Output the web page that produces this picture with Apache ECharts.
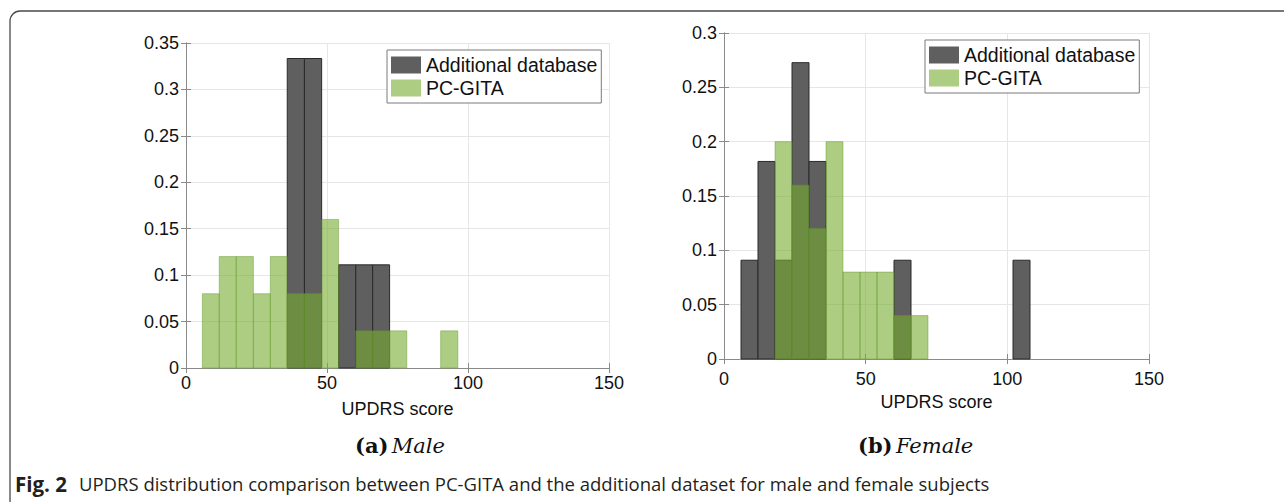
<!DOCTYPE html>
<html>
<head>
<meta charset="utf-8">
<script src="https://cdn.jsdelivr.net/npm/echarts@6/dist/echarts.min.js"></script>
<style>
  html, body { margin: 0; padding: 0; background: #fff; }
  #main { width: 1284px; height: 502px; }
</style>
</head>
<body>
<div id="main"></div>
<script>
// histogram bins (left/right edges)
var maleEdges = [5.8, 11.8, 17.8, 23.9, 29.9, 35.9, 42.0, 48.1, 54.1, 60.2, 66.2, 72.2, 78.3, 84.3, 90.3, 96.4];
var maleAdditional = [0, 0, 0, 0, 0, 0.3333, 0.3333, 0, 0.1111, 0.1111, 0.1111, 0, 0, 0, 0];
var malePcGita = [0.08, 0.12, 0.12, 0.08, 0.12, 0.08, 0.08, 0.16, 0, 0.04, 0.04, 0.04, 0, 0, 0.04];

var femaleEdges = [6, 12, 18, 24, 30, 36, 42, 48, 54, 60, 66, 72, 78, 84, 90, 96, 102, 108];
var femaleAdditional = [0.0909, 0.1818, 0.0909, 0.2727, 0.1818, 0, 0, 0, 0, 0.0909, 0, 0, 0, 0, 0, 0, 0.0909];
var femalePcGita = [0, 0, 0.2, 0.16, 0.12, 0.2, 0.08, 0.08, 0.08, 0.04, 0.04, 0, 0, 0, 0, 0, 0];

var xTicks = [0, 50, 100, 150];
var seriesNames = ['Additional database', 'PC-GITA'];

var FONT = '"Liberation Sans", Arial, Helvetica, sans-serif';
var SERIF = '"DejaVu Serif", "Liberation Serif", serif';
var grayFill = '#5f5f5f';
var greenFill = 'rgba(119,172,48,0.6)';

function bins(edges, vals) {
  var out = [];
  for (var i = 0; i < vals.length; i++) {
    out.push([edges[i], edges[i + 1], vals[i]]);
  }
  return out;
}

function makeRender(fill, stroke) {
  return function (params, api) {
    var v = api.value(2);
    if (!v) return null;
    var p0 = api.coord([api.value(0), v]);
    var p1 = api.coord([api.value(1), 0]);
    return {
      type: 'rect',
      shape: { x: p0[0], y: p0[1], width: p1[0] - p0[0], height: p1[1] - p0[1] },
      style: { fill: fill, stroke: stroke, lineWidth: 1 }
    };
  };
}

function histSeries(name, idx, data, fill, stroke) {
  return {
    name: name,
    type: 'custom',
    xAxisIndex: idx * 2,
    yAxisIndex: idx * 2,
    itemStyle: { color: fill },
    renderItem: makeRender(fill, stroke),
    encode: { x: [0, 1], y: 2 },
    data: data
  };
}

var axisLineStyle = { color: '#8a8a8a', width: 1 };

function xAxes(gridIndex, labelMargin, nameGap) {
  return [{
    gridIndex: gridIndex,
    type: 'value',
    min: 0, max: 150, interval: 50,
    name: 'UPDRS score',
    nameLocation: 'middle',
    nameGap: nameGap,
    nameTextStyle: { fontFamily: FONT, fontSize: 18, color: '#111' },
    axisLine: { lineStyle: axisLineStyle },
    axisTick: { inside: true, length: 5, lineStyle: axisLineStyle },
    axisLabel: { fontFamily: FONT, fontSize: 18, color: '#111', margin: labelMargin,
      customValues: xTicks },
    splitLine: { show: true, lineStyle: { color: '#e6e6e6' } }
  }, {
    gridIndex: gridIndex,
    type: 'value',
    position: 'top',
    min: 0, max: 150, interval: 50,
    axisLine: { lineStyle: axisLineStyle },
    axisTick: { inside: true, length: 5, lineStyle: axisLineStyle },
    axisLabel: { show: false },
    splitLine: { show: false }
  }];
}

function yAxes(gridIndex, max) {
  return [{
    gridIndex: gridIndex,
    type: 'value',
    min: 0, max: max, interval: 0.05,
    axisLine: { show: true, lineStyle: axisLineStyle },
    axisTick: { show: true, inside: true, length: 5, lineStyle: axisLineStyle },
    axisLabel: { fontFamily: FONT, fontSize: 18, color: '#111', margin: 7 },
    splitLine: { show: true, lineStyle: { color: '#e6e6e6' } }
  }, {
    gridIndex: gridIndex,
    type: 'value',
    position: 'right',
    min: 0, max: max, interval: 0.05,
    axisLine: { show: true, lineStyle: axisLineStyle },
    axisTick: { show: true, inside: true, length: 5, lineStyle: axisLineStyle },
    axisLabel: { show: false },
    splitLine: { show: false }
  }];
}

function legendAt(left, top) {
  return {
    left: left, top: top,
    orient: 'vertical',
    selectedMode: false,
    backgroundColor: '#fff',
    borderColor: '#7a7a7a',
    borderWidth: 1,
    borderRadius: 0,
    padding: [5, 4, 5, 4],
    itemGap: 3,
    itemWidth: 30,
    itemHeight: 17,
    textStyle: { fontFamily: FONT, fontSize: 19.5, color: '#111' },
    data: [
      { name: seriesNames[0], icon: 'rect', itemStyle: { color: grayFill } },
      { name: seriesNames[1], icon: 'rect', itemStyle: { color: '#adcd83' } }
    ]
  };
}

function subCaption(left, tag, word) {
  return {
    type: 'text', left: left, top: 435,
    style: {
      text: '{b|' + tag + '} {i|' + word + '}',
      rich: {
        b: { fontFamily: SERIF, fontWeight: 'bold', fontSize: 21, fill: '#111' },
        i: { fontFamily: SERIF, fontStyle: 'italic', fontSize: 21, fill: '#111' }
      }
    }
  };
}

var chart = echarts.init(document.getElementById('main'), null, { renderer: 'svg' });

var option = {
  animation: false,
  backgroundColor: '#fff',
  grid: [
    { left: 186, top: 43, width: 423, height: 325 },
    { left: 724, top: 33, width: 425, height: 326 }
  ],
  xAxis: xAxes(0, 6, 32).concat(xAxes(1, 11, 34)),
  yAxis: yAxes(0, 0.35).concat(yAxes(1, 0.3)),
  legend: [legendAt(387, 50), legendAt(925, 40)],
  series: [
    histSeries(seriesNames[0], 0, bins(maleEdges, maleAdditional), grayFill, '#2a2a2a'),
    histSeries(seriesNames[1], 0, bins(maleEdges, malePcGita), greenFill, 'rgba(100,150,40,0.45)'),
    histSeries(seriesNames[0], 1, bins(femaleEdges, femaleAdditional), grayFill, '#2a2a2a'),
    histSeries(seriesNames[1], 1, bins(femaleEdges, femalePcGita), greenFill, 'rgba(100,150,40,0.45)')
  ],
  graphic: [
    {
      type: 'rect', silent: true, z: -1,
      shape: { x: 10, y: 11, width: 1300, height: 500, r: 10 },
      style: { fill: 'none', stroke: '#4a4a4a', lineWidth: 1.3 }
    },
    subCaption(355, '(a)', 'Male'),
    subCaption(858, '(b)', 'Female'),
    {
      type: 'text', left: 15, top: 473,
      style: {
        text: '{b|Fig. 2}{n|UPDRS distribution comparison between PC-GITA and the additional dataset for male and female subjects}',
        rich: {
          b: { fontFamily: '"Open Sans", sans-serif', fontWeight: 'bold', fontSize: 20.5, fill: '#231f20' },
          n: { fontFamily: '"Open Sans", sans-serif', fontSize: 18.5, fill: '#231f20', padding: [0, 0, 0, 12] }
        }
      }
    }
  ]
};

chart.setOption(option);
</script>
</body>
</html>
